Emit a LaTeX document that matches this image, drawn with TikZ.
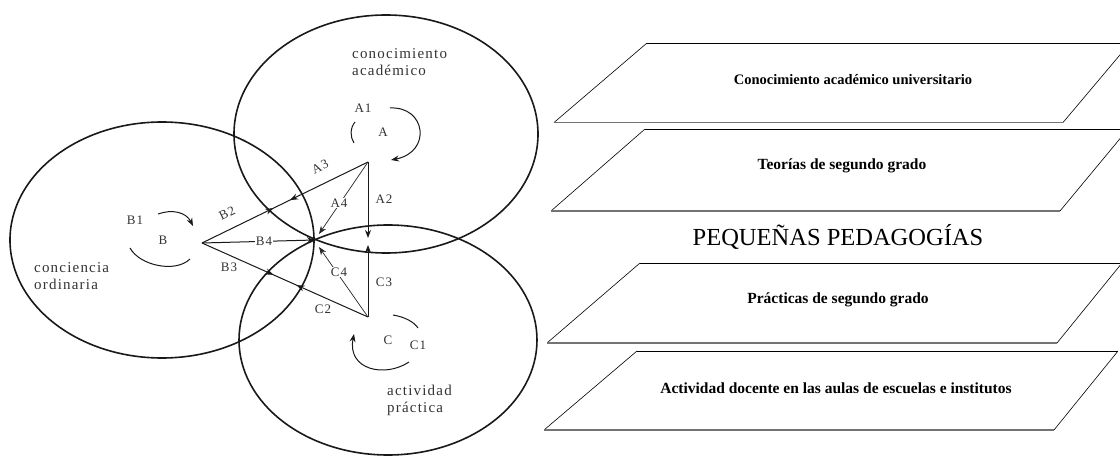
\documentclass[tikz,border=0pt]{standalone}
\usepackage{fontspec}
\setmainfont{Liberation Serif}
\newfontfamily\scanfont[LetterSpace=8]{Liberation Serif}
\usetikzlibrary{arrows.meta,shapes.geometric,decorations.markings}
\tikzset{
  ring/.style={ellipse, draw=black!90, line width=1.6pt, inner sep=0pt},
  link/.style={draw=black!90, line width=1pt},
  thinlink/.style={draw=black!85, line width=0.7pt},
  tipped/.style={-{Stealth[length=8pt,width=6pt]}},
  lbl/.style={font=\scanfont\fontsize{13}{15}\selectfont, text=black!80, inner sep=1pt},
  title/.style={font=\scanfont\fontsize{15}{17}\selectfont, text=black!80, align=left, inner sep=0pt, anchor=west},
  platetop/.style={draw=black, line width=0.9pt},
  plateside/.style={draw=black, line width=0.6pt},
  platebottom/.style={draw=black!55, line width=1.8pt},
  platetext/.style={font=\bfseries\fontsize{15.5}{17}\selectfont, inner sep=0pt},
  bigtext/.style={font=\fontsize{24.5}{26}\selectfont, inner sep=0pt},
  midarrows/.style 2 args={postaction={decorate}, decoration={markings,
      mark=at position #1 with {\arrow{Stealth[length=8pt,width=6pt]}},
      mark=at position #2 with {\arrowreversed{Stealth[length=8pt,width=6pt]}}}}
}
\begin{document}
\begin{tikzpicture}[x=1pt,y=-1pt]
\useasboundingbox (0,0) rectangle (1120,457);
\clip (0,0) rectangle (1120,457);
\fill[white] (0,0) rectangle (1120,457);

% ---------------- three overlapping circles ----------------
\node[ring, minimum width=304pt, minimum height=238pt] (circA) at (386,134) {};
\node[ring, minimum width=304pt, minimum height=236pt] (circB) at (162,240) {};
\node[ring, minimum width=298pt, minimum height=230pt] (circC) at (388,340) {};

\node[title] (tA) at (352,62) {conocimiento\\académico};
\node[title] (tB) at (34,276) {conciencia\\ordinaria};
\node[title] (tC) at (387,400) {actividad\\práctica};

% ---------------- vertices ----------------
\coordinate (P) at (315,240);
\coordinate (Av) at (368,162);
\coordinate (Bv) at (202,243);
\coordinate (Cv) at (368,317);
\coordinate (a2tip) at (368,238);
\coordinate (c3tip) at (368,245);
\coordinate (a4tip) at (319,234);
\coordinate (c4tip) at (319,247);

% triangle sides with arrows
\draw[link, midarrows={0.43}{0.53}] (Bv) -- (Av);
\draw[link, midarrows={0.43}{0.57}] (Bv) -- (Cv);
\draw[link, tipped] (Av) -- (a2tip);
\draw[link, tipped] (Cv) -- (c3tip);
\draw[link, tipped] (Bv) -- (P);
\draw[thinlink, tipped] (Av) -- (a4tip);
\draw[thinlink, tipped] (Cv) -- (c4tip);

% labels
\node[lbl] (lA1) at (363,108) {A1};
\node[lbl] (lA) at (383,132) {A};
\node[lbl] (lA2) at (384,199) {A2};
\node[lbl, rotate=26] (lA3) at (320,167) {A3};
\node[lbl, fill=white] (lA4) at (339,203) {A4};
\node[lbl] (lB1) at (135,220) {B1};
\node[lbl] (lB) at (163,240) {B};
\node[lbl, rotate=26] (lB2) at (227,213) {B2};
\node[lbl] (lB3) at (229,267) {B3};
\node[lbl, fill=white] (lB4) at (264,241) {B4};
\node[lbl] (lC) at (388,340) {C};
\node[lbl] (lC1) at (418,345) {C1};
\node[lbl] (lC2) at (323,309) {C2};
\node[lbl] (lC3) at (384,282) {C3};
\node[lbl, fill=white] (lC4) at (339,272) {C4};

% self loops
\draw[link, tipped] (390,108) .. controls (426,106) and (432,152) .. (391,160);
\draw[link] (355,122) .. controls (350,128) and (350,137) .. (354,143);
\draw[link, tipped] (158,214) .. controls (172,209) and (186,212) .. (193,226);
\draw[link] (130,248) .. controls (140,266) and (176,273) .. (190,259);
\draw[link, tipped] (409,362) .. controls (385,378) and (347,370) .. (354,334);
\draw[link] (393,315) .. controls (405,317) and (414,322) .. (418,328);

% ---------------- right side: levels ----------------
\coordinate (p1tl) at (647,43);  \coordinate (p1tr) at (1130,43);
\coordinate (p1br) at (1063,122.5); \coordinate (p1bl) at (554,122.5);
\coordinate (p2tl) at (645,129);  \coordinate (p2tr) at (1128,129);
\coordinate (p2br) at (1060,211); \coordinate (p2bl) at (551,211);
\coordinate (p3tl) at (640,263);  \coordinate (p3tr) at (1122,263);
\coordinate (p3br) at (1057,343); \coordinate (p3bl) at (547,343);
\coordinate (p4tl) at (637,351);  \coordinate (p4tr) at (1118,351);
\coordinate (p4br) at (1054,430); \coordinate (p4bl) at (544,430);

\foreach \p in {p1,p2,p3,p4}{
  \draw[platetop] (\p tl) -- (\p tr);
  \draw[plateside] (\p tr) -- (\p br);
  \draw[plateside] (\p bl) -- (\p tl);
  \draw[platebottom] (\p bl) -- (\p br);
}

\node[platetext, font=\bfseries\fontsize{14.5}{16}\selectfont] (t1) at (853,80) {Conocimiento académico universitario};
\node[platetext] (t2) at (842,166) {Teorías de segundo grado};
\node[bigtext] (t0) at (838,237) {PEQUEÑAS PEDAGOGÍAS};
\node[platetext] (t3) at (838,300) {Prácticas de segundo grado};
\node[platetext] (t4) at (836,388) {Actividad docente en las aulas de escuelas e institutos};
\end{tikzpicture}
\end{document}
